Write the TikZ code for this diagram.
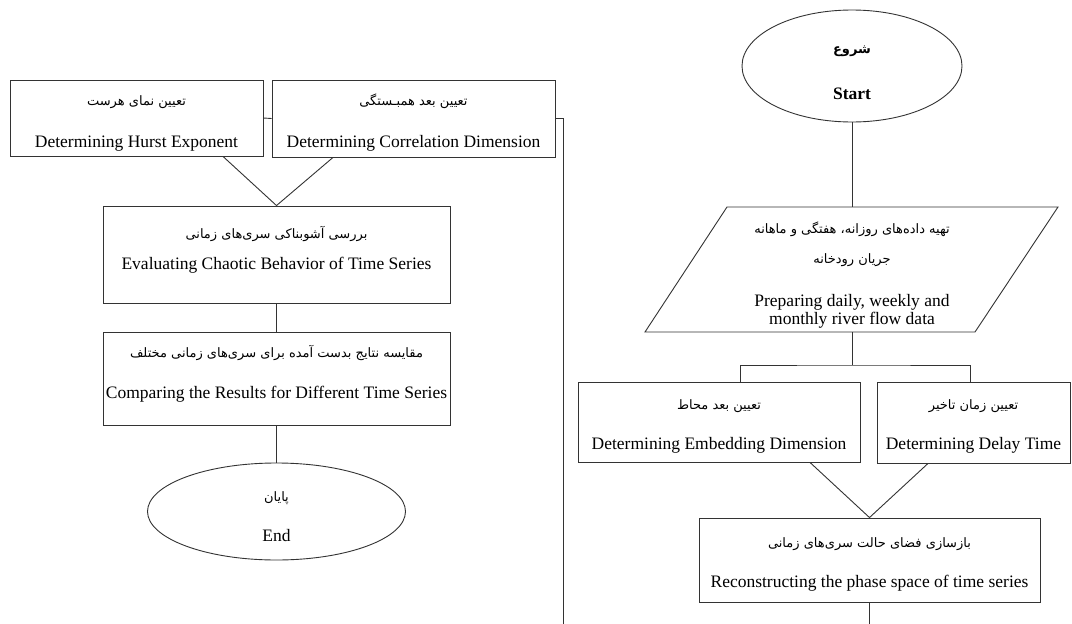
\documentclass[tikz,border=0pt]{standalone}
\usepackage{fontspec}
\setmainfont{Liberation Serif}
\newfontfamily\farsifont[Script=Arabic]{DejaVu Sans}
\TeXXeTstate=1
\usetikzlibrary{shapes.geometric,calc}
\newcommand\perstxt[1]{{\fontsize{13}{15}\farsifont\beginR #1\endR}}
\begin{document}
\begin{tikzpicture}[x=1pt,y=-1pt,
  conn/.style={draw=black!80,line width=0.9pt},
  box/.style={conn, rectangle, inner sep=0pt},
  oval/.style={conn, ellipse, inner sep=0pt},
  txt/.style={inner sep=0pt, align=center, font=\fontsize{17.5}{21}\selectfont},
]
\fill[white] (0,0) rectangle (1072,624);
\useasboundingbox (0,0) rectangle (1072,624);

% ---------- left column ----------
\node[box, minimum width=253, minimum height=76] (hurst) at (136.5,118) {};
\node[txt] (hurstT) at ([yshift=-5]hurst.center)
  {\perstxt{تعیین نمای هرست}\\[21pt]Determining Hurst Exponent};
\node[box, minimum width=283, minimum height=77] (corr) at (413.5,118.5) {};
\node[txt] (corrT) at ([yshift=-4]corr.center)
  {\perstxt{تعیین بعد همبـستگی}\\[21pt]Determining Correlation Dimension};
\node[box, minimum width=347, minimum height=97] (eval) at (276.5,254.5) {};
\node[txt] (evalT) at ([yshift=-6]eval.center)
  {\perstxt{بررسی آشوبناکی سری‌های زمانی}\\[10pt]Evaluating Chaotic Behavior of Time Series\\[4pt]};
\node[box, minimum width=347, minimum height=93] (comp) at (276.5,378.5) {};
\node[txt] (compT) at ([yshift=-5]comp.center)
  {\perstxt{مقایسه نتایج بدست آمده برای سری‌های زمانی مختلف}\\[20pt]Comparing the Results for Different Time Series\\[2pt]};
\node[oval, minimum width=258, minimum height=97] (endn) at (276.5,511.5) {};
\node[txt] (endT) at ([yshift=-5]endn.center)
  {\perstxt{پایان}\\[19pt]End};
\coordinate (loopend) at (563,624);

% ---------- right column ----------
\node[oval, minimum width=220, minimum height=112] (start) at (852,66) {};
\node[txt] (startT) at ([yshift=-7]start.center)
  {\textbf{\perstxt{شروع}}\\[25pt]\textbf{Start}};
\draw[conn] (727,207) -- (1058,207) -- (975,332) -- (645,332) -- cycle;
\node[minimum width=331, minimum height=125, inner sep=0pt] (prep) at (852,269.5) {};
\node[txt] (prepT) at ([yshift=-5.5]prep.center)
  {\perstxt{تهیه داده‌های روزانه، هفتگی و ماهانه}\\[9pt]
   \perstxt{جریان رودخانه}\\[22pt]
   Preparing daily, weekly and\\[-3pt]monthly river flow data};
\coordinate (split) at (852,365);
\node[box, minimum width=282, minimum height=80] (emb) at (719,422) {};
\node[txt] (embT) at ([yshift=-4]emb.center)
  {\perstxt{تعیین بعد محاط}\\[19pt]Determining Embedding Dimension};
\node[box, minimum width=193, minimum height=81] (delay) at (973.5,422.5) {};
\node[txt] (delayT) at ([yshift=-4]delay.center)
  {\perstxt{تعیین زمان تاخیر}\\[19pt]Determining Delay Time};
\node[box, minimum width=341, minimum height=84] (recon) at (869.5,560) {};
\node[txt] (reconT) at ([yshift=-4]recon.center)
  {\perstxt{بازسازی فضای حالت سری‌های زمانی}\\[19pt]Reconstructing the phase space of time series};
\coordinate (reconend) at (869.5,624);

% ---------- connectors ----------
\draw[conn] (hurst.east) -- (corr.west);
\draw[conn] (corr.east) -| (loopend);
\draw[conn] ([xshift=86.5]hurst.south) -- (eval.north);
\draw[conn] ([xshift=-80.5]corr.south) -- (eval.north);
\draw[conn] (eval.south) -- (comp.north);
\draw[conn] (comp.south) -- (endn.north);

\draw[conn] (start.south) -- (prep.north);
\draw[conn] (prep.south) -- (split);
\draw[conn] ([xshift=21]emb.north) |- (split) -| ([xshift=-3.5]delay.north);
\draw[conn] ([xshift=91]emb.south) -- (recon.north);
\draw[conn] ([xshift=-45.5]delay.south) -- (recon.north);
\draw[conn] (recon.south) -- (reconend);
\end{tikzpicture}
\end{document}
